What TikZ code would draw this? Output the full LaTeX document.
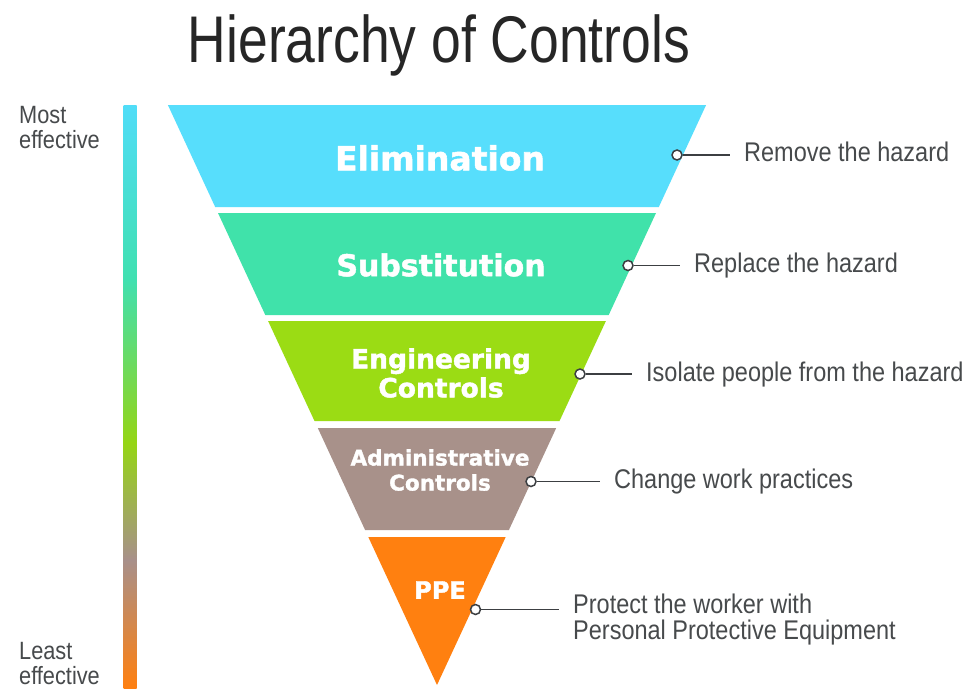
\documentclass[tikz,border=0pt]{standalone}
\usepackage{fontspec}
\newfontfamily\condf[FakeStretch=0.87]{Liberation Sans}
\newfontfamily\titlef[FakeStretch=0.81]{Liberation Sans}
\newfontfamily\heavyf[BoldFeatures={FakeBold=1.6}]{DejaVu Sans}
\definecolor{elim}{HTML}{57DEFC}
\definecolor{subst}{HTML}{40E2AA}
\definecolor{engc}{HTML}{9BDC14}
\definecolor{admc}{HTML}{A8918A}
\definecolor{ppec}{HTML}{FF8010}
\definecolor{txtg}{HTML}{474A4C}
\definecolor{linec}{HTML}{3C3F42}
\definecolor{g1}{HTML}{50DDF8}
\definecolor{g2}{HTML}{40E0B0}
\definecolor{g3}{HTML}{95D515}
\definecolor{g4}{HTML}{A8908A}
\definecolor{g5}{HTML}{FF8010}
\tikzset{
  blabel/.style={text=white, font=\heavyf\bfseries, align=center, inner sep=0pt},
  rlabel/.style={text=txtg, font=\condf\fontsize{27}{26}\selectfont, inner sep=0pt, align=left},
  llabel/.style={text=txtg, font=\condf\fontsize{25}{25}\selectfont, inner sep=0pt, align=left},
  dotc/.style={circle, draw=linec, fill=white, line width=1.5pt, minimum size=10pt, inner sep=0pt},
  conn/.style={draw=linec, line width=1.3pt, shorten >=14pt},
}
\begin{document}
\begin{tikzpicture}[x=1pt,y=-1pt]
\useasboundingbox (0,0) rectangle (979,688);
\fill[white] (0,0) rectangle (979,688);
% title
\node[text=black!85, font=\titlef\fontsize{66}{66}\selectfont, anchor=base, inner sep=0pt] (title) at (439,62) {Hierarchy of Controls};
% left gradient bar
\shade[top color=g1, bottom color=g2] (123.5,105) rectangle (136.5,280);
\shade[top color=g2, bottom color=g3] (123.5,279.5) rectangle (136.5,443);
\shade[top color=g3, bottom color=g4] (123.5,442.5) rectangle (136.5,560);
\shade[top color=g4, bottom color=g5] (123.5,559.5) rectangle (136.5,688);
\node[llabel, anchor=base west] (most) at (19,148) {Most\\effective};
\node[llabel, anchor=base west] (least) at (19,684) {Least\\effective};
% bands
\fill[elim]  (167.9,105) -- (706.1,105) -- (658.8,207) -- (215.2,207) -- cycle;
\fill[subst] (218.0,213) -- (656.0,213) -- (608.7,315) -- (265.3,315) -- cycle;
\fill[engc]  (268.1,321) -- (605.9,321) -- (559.5,421) -- (314.5,421) -- cycle;
\fill[admc]  (317.8,428) -- (556.2,428) -- (508.9,530) -- (365.1,530) -- cycle;
\fill[ppec]  (368.3,537) -- (505.7,537) -- (437,685) -- cycle;
% band labels
\node[blabel, font=\heavyf\bfseries\fontsize{33}{33}\selectfont] (belim) at (440,158) {Elimination};
\node[blabel, font=\heavyf\bfseries\fontsize{30}{30}\selectfont] (bsub) at (441,265) {Substitution};
\node[blabel, font=\heavyf\bfseries\fontsize{26.5}{29}\selectfont] (beng) at (441,373) {Engineering\\Controls};
\node[blabel, font=\heavyf\bfseries\fontsize{21.5}{25}\selectfont] (badm) at (440,470) {Administrative\\Controls};
\node[blabel, font=\heavyf\bfseries\fontsize{24}{24}\selectfont] (bppe) at (440,590) {PPE};
% right labels
\node[rlabel, anchor=base west] (t1) at (744,161) {Remove the hazard};
\node[rlabel, anchor=base west] (t2) at (694,272) {Replace the hazard};
\node[rlabel, anchor=base west] (t3) at (646,381) {Isolate people from the hazard};
\node[rlabel, anchor=base west] (t4) at (614,488) {Change work practices};
\node[rlabel, anchor=base west] (t5) at (573,639) {Protect the worker with\\Personal Protective Equipment};
% connectors
\node[dotc] (d1) at (677,155) {};
\node[dotc] (d2) at (628,265.5) {};
\node[dotc] (d3) at (580,374) {};
\node[dotc] (d4) at (531,481.5) {};
\node[dotc] (d5) at (475.5,609.5) {};
\draw[conn] (d1) -- (d1 -| t1.west);
\draw[conn] (d2) -- (d2 -| t2.west);
\draw[conn] (d3) -- (d3 -| t3.west);
\draw[conn] (d4) -- (d4 -| t4.west);
\draw[conn] (d5) -- (d5 -| t5.west);
\end{tikzpicture}
\end{document}
